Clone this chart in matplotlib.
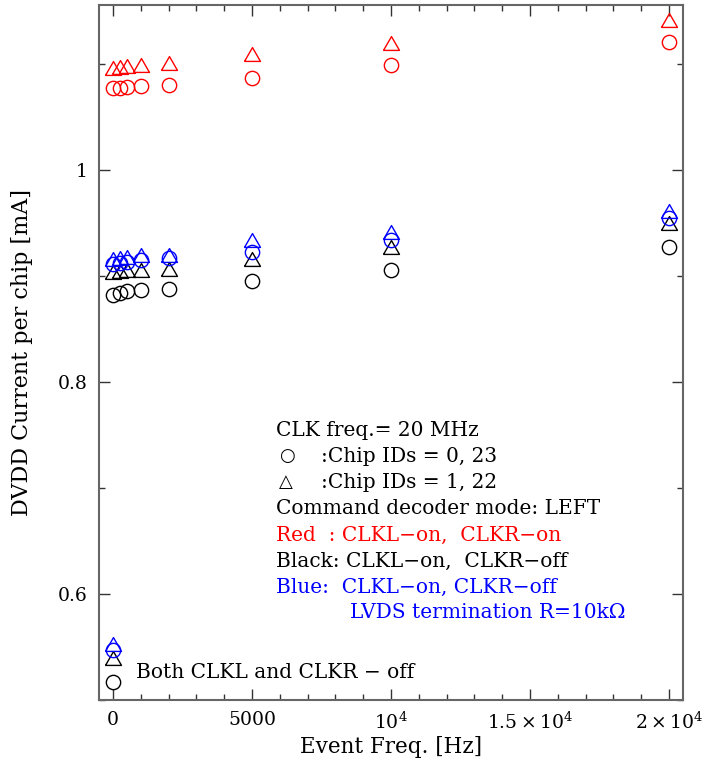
import matplotlib
matplotlib.use("Agg")
import matplotlib.pyplot as plt
from matplotlib.ticker import FixedLocator, FixedFormatter, MultipleLocator

# ---- data ----
event_freq = [0, 250, 500, 1000, 2000, 5000, 10000, 20000]
red_circle = [1.077, 1.077, 1.078, 1.079, 1.080, 1.087, 1.099, 1.121]
red_triangle = [1.096, 1.097, 1.098, 1.099, 1.101, 1.109, 1.120, 1.142]
black_circle = [0.882, 0.884, 0.886, 0.887, 0.888, 0.895, 0.906, 0.927]
black_triangle = [0.904, 0.905, 0.906, 0.906, 0.907, 0.916, 0.927, 0.950]
blue_circle = [0.911, 0.912, 0.913, 0.915, 0.917, 0.923, 0.934, 0.955]
blue_triangle = [0.916, 0.917, 0.918, 0.920, 0.920, 0.934, 0.942, 0.961]

off_freq = [0]
off_black_circle = [0.517]
off_black_triangle = [0.540]
off_blue_circle = [0.547]
off_blue_triangle = [0.553]

xticks = [0, 5000, 10000, 15000, 20000]
xticklabels = ["0", "5000", r"$10^4$", r"$1.5\times10^4$", r"$2\times10^4$"]
yticks = [0.6, 0.8, 1.0]
yticklabels = ["0.6", "0.8", "1"]

plt.rcParams['font.family'] = ['DejaVu Serif', 'DejaVu Sans']
plt.rcParams['mathtext.fontset'] = 'dejavuserif'

W, H = 706, 766
fig = plt.figure(figsize=(W / 100, H / 100), dpi=100)
ax = fig.add_axes([99 / W, 1 - 700 / H, (683 - 99) / W, (700 - 5) / H])

tri = [(-1, -0.866), (1, -0.866), (0, 0.866), (-1, -0.866)]
ms_c, ms_t, mew = 10.3, 11.5, 1.0

def pts(x, y, color, marker, ms):
    ax.plot(x, y, linestyle='none', marker=marker, markersize=ms,
            markerfacecolor='none', markeredgecolor=color, markeredgewidth=mew)

red = '#ff0000'
blue = '#0000ff'
black = '#000000'

pts(event_freq, red_circle, red, 'o', ms_c)
pts(event_freq, red_triangle, red, tri, ms_t)
pts(event_freq, black_circle, black, 'o', ms_c)
pts(event_freq, black_triangle, black, tri, ms_t)
pts(event_freq, blue_circle, blue, 'o', ms_c)
pts(event_freq, blue_triangle, blue, tri, ms_t)
pts(off_freq, off_black_circle, black, 'o', ms_c)
pts(off_freq, off_black_triangle, black, tri, ms_t)
pts(off_freq, off_blue_circle, blue, 'o', ms_c)
pts(off_freq, off_blue_triangle, blue, tri, ms_t)

ax.set_xlim(-504, 20504)
ax.set_ylim(0.5, 1.1557)

ax.xaxis.set_major_locator(FixedLocator(xticks))
ax.xaxis.set_major_formatter(FixedFormatter(xticklabels))
ax.xaxis.set_minor_locator(MultipleLocator(1000))
ax.yaxis.set_major_locator(FixedLocator(yticks))
ax.yaxis.set_major_formatter(FixedFormatter(yticklabels))
ax.yaxis.set_minor_locator(MultipleLocator(0.1))

ax.tick_params(which='both', direction='in', top=True, right=True, color='#333333', width=1.0)
ax.tick_params(which='major', length=8, labelsize=13.5, pad=8)
ax.tick_params(which='minor', length=4)
for s in ax.spines.values():
    s.set_color('#666666')
    s.set_linewidth(1.5)

ax.set_xlabel("Event Freq. [Hz]", fontsize=15.5, labelpad=3)
ax.set_ylabel("DVDD Current per chip [mA]", fontsize=16, labelpad=18)

fs = 14.5
def t(x, y, s, color='black', family=None, size=fs):
    kw = {}
    if family:
        kw['family'] = family
    fig.text(x / W, 1 - y / H, s, color=color, fontsize=size, va='center', ha='left', **kw)

t(276, 431, "CLK freq.= 20 MHz")
t(279, 456, "○", family=['DejaVu Sans'], size=13)
t(279, 482, "△", family=['DejaVu Sans'], size=13)
t(321, 456, ":Chip IDs = 0, 23")
t(321, 482, ":Chip IDs = 1, 22")
t(276, 508, "Command decoder mode: LEFT")
t(276, 535, "Red  : CLKL\u2212on,  CLKR\u2212on", color=red)
t(276, 561, "Black: CLKL\u2212on,  CLKR\u2212off")
t(276, 587, "Blue:  CLKL\u2212on, CLKR\u2212off", color=blue)
t(350, 612, "LVDS termination R=10kΩ", color=blue)
t(136, 672, "Both CLKL and CLKR \u2212 off")

fig.savefig("out.png", dpi=100)
